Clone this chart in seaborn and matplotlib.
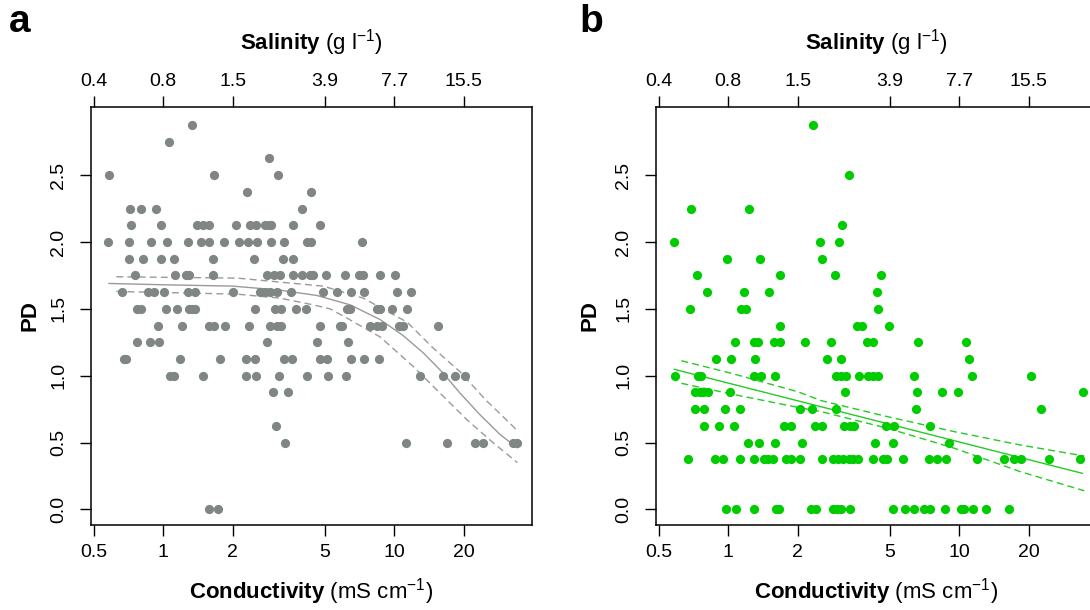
import matplotlib
matplotlib.use("Agg")
import matplotlib.pyplot as plt
import seaborn as sns
import pandas as pd
import numpy as np

# ---------------- data ----------------
# Panel a: PD levels and the conductivities (mS/cm) of samples at each level
a_levels = [2.875, 2.75, 2.625, 2.5, 2.375, 2.25, 2.125, 2.0, 1.875, 1.75, 1.625, 1.5,
            1.375, 1.25, 1.125, 1.0, 0.875, 0.625, 0.5, 0.0]
a_cond = [
    [1.335],
    [1.062],
    [2.869],
    [0.584, 1.658, 3.137],
    [2.303, 4.357],
    [0.720, 0.801, 0.933, 3.999],
    [0.725, 0.980, 1.399, 1.479, 1.571, 2.070, 2.381, 2.527, 2.77, 2.857, 2.93, 3.643, 4.786],
    [0.576, 0.713, 0.881, 1.037, 1.283, 1.450, 1.585, 1.832, 2.133, 2.334, 2.535, 2.925,
     3.319, 4.188, 4.357, 7.265],
    [0.713, 0.814, 0.980, 1.108, 1.634, 2.483, 3.297, 3.643],
    [0.757, 1.119, 1.254, 1.296, 1.646, 2.828, 3.003, 3.188, 3.630, 3.978, 4.327, 4.473,
     5.060, 6.133, 7.035, 7.317, 8.696, 10.13],
    [0.663, 0.855, 0.908, 1.003, 1.274, 1.366, 2.014, 2.630, 2.765, 2.904, 3.105, 3.581,
     4.910, 5.649, 6.535, 7.413, 10.28, 11.81],
    [0.769, 0.801, 1.023, 1.146, 1.287, 1.331, 1.376, 2.501, 3.055, 3.243, 3.764, 4.149,
     6.238, 6.450, 8.415, 8.696, 9.835, 11.35],
    [0.948, 1.209, 1.571, 1.663, 1.854, 2.357, 2.904, 3.124, 3.226, 4.797, 5.838, 5.974,
     7.870, 8.415, 8.850, 10.55, 10.97, 15.50],
    [0.769, 0.878, 0.954, 2.811, 4.627, 6.318],
    [0.673, 0.687, 1.185, 1.766, 2.280, 2.501, 3.319, 3.606, 4.786, 5.112, 6.515, 7.413, 8.588],
    [1.065, 1.108, 1.486, 2.280, 2.527, 3.169, 4.20, 5.164, 6.196, 12.96, 16.34, 18.37, 20.29],
    [2.985, 3.467],
    [3.084],
    [3.373, 11.27, 16.91, 22.42, 24.36, 32.83, 34.18],
    [1.571, 1.734],
]

# Panel a fitted curve and confidence band
a_fit_x = [0.58, 1.0, 2.0, 3.2, 4.63, 6.45, 8.7, 10.95, 13.4, 16.3, 19.3, 23.5, 28.8, 34.2]
a_fit_y = [1.69, 1.68, 1.67, 1.64, 1.60, 1.53, 1.42, 1.30, 1.17, 1.02, 0.87, 0.71, 0.56, 0.46]
a_up_x = [0.626, 2.09, 3.21, 4.93, 7.35, 11.4, 14.7, 19.3, 24.9, 34.2]
a_up_y = [1.74, 1.73, 1.70, 1.67, 1.58, 1.40, 1.21, 1.03, 0.82, 0.59]
a_lo_x = [0.626, 2.09, 3.21, 4.46, 5.28, 6.26, 8.70, 12.09, 15.8, 20.7, 26.8, 34.2]
a_lo_y = [1.63, 1.61, 1.58, 1.53, 1.50, 1.43, 1.29, 1.07, 0.87, 0.67, 0.50, 0.35]

# Panel b
b_levels = [2.875, 2.5, 2.25, 2.125, 2.0, 1.875, 1.75, 1.625, 1.5, 1.375, 1.25, 1.125,
            1.0, 0.875, 0.75, 0.625, 0.5, 0.375, 0.0]
b_cond = [
    [2.326],
    [3.340],
    [0.692, 1.224],
    [3.116],
    [0.584, 2.501, 3.023],
    [0.987, 1.376, 2.553],
    [0.729, 1.679, 2.905, 4.610],
    [0.811, 1.165, 1.500, 4.416],
    [0.685, 1.130, 1.196, 4.460],
    [1.679, 3.618, 3.793, 4.977],
    [1.069, 1.292, 1.345, 1.577, 1.667, 2.154, 2.792, 3.998, 4.231, 6.625, 10.72],
    [0.887, 1.030, 1.300, 2.684, 3.084, 11.01],
    [0.590, 0.742, 0.764, 1.292, 1.380, 1.597, 2.935, 3.084, 3.243, 3.681, 4.027, 4.231,
     4.446, 6.402, 11.38, 20.49],
    [0.715, 0.751, 0.777, 0.817, 1.013, 3.21, 6.583, 8.419, 9.868, 34.3],
    [0.720, 0.785, 0.964, 1.119, 2.050, 2.310, 2.935, 6.515, 22.64],
    [0.782, 0.912, 1.054, 1.735, 1.861, 2.364, 2.545, 3.187, 3.38, 3.500, 4.830, 5.214, 7.486],
    [1.217, 1.353, 1.597, 2.085, 4.328, 5.180, 9.024],
    [0.669, 0.873, 0.948, 1.119, 1.287, 1.422, 1.485, 1.561, 1.782, 1.874, 2.035, 2.553,
     2.848, 2.992, 3.147, 3.340, 3.477, 3.643, 4.231, 4.675, 4.877, 5.703, 7.436, 8.035,
     8.782, 11.93, 15.62, 17.26, 18.55, 24.54, 33.4],
    [0.980, 1.075, 1.292, 1.614, 1.658, 2.287, 2.404, 2.848, 2.964, 3.084, 3.373, 5.164,
     5.839, 6.384, 7.054, 7.486, 8.724, 10.20, 10.47, 11.53, 13.09, 16.51],
]

b_fit_x = [0.582, 34.3]
b_fit_y = [1.048, 0.269]
b_up_x = [0.626, 1.03, 2.0, 2.53, 4.91, 9.55, 18.5, 34.9]
b_up_y = [1.112, 1.018, 0.880, 0.813, 0.693, 0.581, 0.481, 0.399]
b_lo_x = [0.626, 1.03, 2.0, 2.53, 4.91, 9.55, 18.5, 34.9]
b_lo_y = [0.943, 0.863, 0.763, 0.731, 0.606, 0.457, 0.281, 0.139]

cond_ticks = [0.5, 1, 2, 5, 10, 20]
cond_labels = ["0.5", "1", "2", "5", "10", "20"]
sal_labels = ["0.4", "0.8", "1.5", "3.9", "7.7", "15.5"]
pd_ticks = [0.0, 0.5, 1.0, 1.5, 2.0, 2.5]
pd_labels = ["0.0", "0.5", "1.0", "1.5", "2.0", "2.5"]


def to_frame(levels, conds):
    rows = [(c, lv) for lv, cs in zip(levels, conds) for c in cs]
    return pd.DataFrame(rows, columns=["cond", "pd"])


df_a = to_frame(a_levels, a_cond)
df_b = to_frame(b_levels, b_cond)

# ---------------- style ----------------
sns.set_style("ticks")
plt.rcParams["font.family"] = ["Liberation Sans", "DejaVu Sans"]
plt.rcParams["mathtext.fontset"] = "custom"
plt.rcParams["mathtext.rm"] = "Liberation Sans"
plt.rcParams["mathtext.it"] = "Liberation Sans:italic"
plt.rcParams["mathtext.bf"] = "Liberation Sans:bold"
for key in ["text.color", "axes.labelcolor", "xtick.color", "ytick.color",
            "xtick.labelcolor", "ytick.labelcolor", "axes.edgecolor"]:
    plt.rcParams[key] = "black"

W, H = 1090, 610
fig = plt.figure(figsize=(W / 100, H / 100), dpi=100)
fig.patch.set_facecolor("white")

XLIM = (0.486, 39.6)
YLIM = (-0.117, 3.01)


def px_axes(left, top, right, bottom):
    return fig.add_axes([left / W, 1 - bottom / H, (right - left) / W, (bottom - top) / H])


def style_axes(ax):
    ax.set_xscale("log")
    ax.set_xlim(*XLIM)
    ax.set_ylim(*YLIM)
    ax.set_xticks(cond_ticks)
    ax.set_xticklabels(cond_labels)
    ax.xaxis.set_minor_locator(matplotlib.ticker.NullLocator())
    ax.set_yticks(pd_ticks)
    ax.set_yticklabels(pd_labels, rotation=90, va="center")
    ax.tick_params(axis="x", direction="out", length=8, width=1, labelsize=14, pad=6,
                   color="black", labelcolor="black")
    ax.tick_params(axis="y", direction="out", length=8, width=1, labelsize=14, pad=9,
                   color="black", labelcolor="black")
    for s in ax.spines.values():
        s.set_visible(True)
        s.set_color("black")
        s.set_linewidth(1.1)
    ax.set_xlabel("")
    ax.set_ylabel("")
    top = ax.twiny()
    top.set_xscale("log")
    top.set_xlim(*XLIM)
    top.set_xticks(cond_ticks)
    top.set_xticklabels(sal_labels)
    top.xaxis.set_minor_locator(matplotlib.ticker.NullLocator())
    top.tick_params(axis="x", direction="out", length=8, width=1, labelsize=14, pad=4,
                    color="black", labelcolor="black")
    for s in top.spines.values():
        s.set_visible(False)
    return top


def draw_panel(ax, df, color, line_color, fit, up, lo, lw):
    sns.scatterplot(data=df, x="cond", y="pd", ax=ax, color=color, s=44,
                    linewidth=0, marker="o", legend=False, zorder=3)
    sns.lineplot(x=fit[0], y=fit[1], ax=ax, color=line_color, lw=lw, sort=False,
                 estimator=None, zorder=2)
    sns.lineplot(x=up[0], y=up[1], ax=ax, color=line_color, lw=lw, sort=False,
                 estimator=None, linestyle=(0, (5, 3)), zorder=2)
    sns.lineplot(x=lo[0], y=lo[1], ax=ax, color=line_color, lw=lw, sort=False,
                 estimator=None, linestyle=(0, (5, 3)), zorder=2)


ax_a = px_axes(91, 107, 532, 525)
ax_b = px_axes(656, 107, 1097, 525)

draw_panel(ax_a, df_a, "#7f8683", "#9a9a9a", (a_fit_x, a_fit_y), (a_up_x, a_up_y),
           (a_lo_x, a_lo_y), 1.0)
draw_panel(ax_b, df_b, "#00cc00", "#22cc22", (b_fit_x, b_fit_y), (b_up_x, b_up_y),
           (b_lo_x, b_lo_y), 1.0)

style_axes(ax_a)
style_axes(ax_b)

# labels
sal_txt = r"$\mathbf{Salinity}$ (g l$^{-1}$)"
cond_txt = r"$\mathbf{Conductivity}$ (mS cm$^{-1}$)"
for cx, lx in [((91 + 532) / 2, 30), ((656 + 1097) / 2, 590)]:
    fig.text(cx / W, 1 - 43 / H, sal_txt, ha="center", va="center", fontsize=16,
             color="black")
    fig.text(cx / W, 1 - 592 / H, cond_txt, ha="center", va="center", fontsize=16,
             color="black")
    fig.text(lx / W, 1 - 316 / H, "PD", ha="center", va="center", fontsize=16,
             fontweight="bold", rotation=90, color="black")
fig.text(20 / W, 1 - 22 / H, "a", ha="center", va="center", fontsize=28,
         fontweight="bold", color="black")
fig.text(591 / W, 1 - 22 / H, "b", ha="center", va="center", fontsize=28,
         fontweight="bold", color="black")

fig.savefig("out.png", dpi=100, facecolor="white")
